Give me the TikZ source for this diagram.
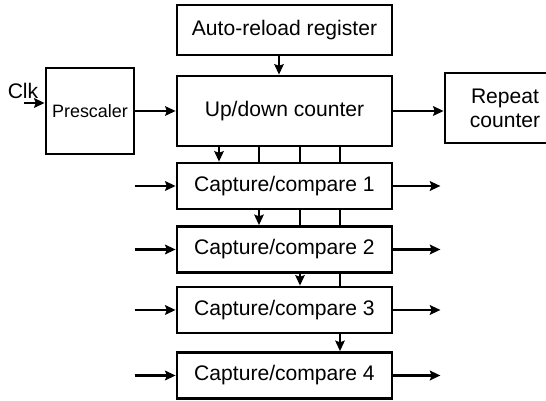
\documentclass[tikz,border=0pt]{standalone}
\usepackage{fontspec}
\setmainfont{Liberation Sans}
\usetikzlibrary{arrows.meta}

\tikzset{
  blk/.style={draw, line width=1.6pt, fill=white, minimum width=43mm,
    font=\fontsize{12}{13.6}\selectfont, align=center, inner sep=0pt},
  arr/.style={-{Stealth[length=6pt,width=5.5pt,inset=1pt]}, line width=0.8pt},
  thickarr/.style={arr, line width=1.2pt},
  wire/.style={line width=0.8pt}
}

\begin{document}
\begin{tikzpicture}[x=0.2mm,y=-0.2mm]
\useasboundingbox (0,0) rectangle (546,401);

% timer core
\node[blk, minimum height=10mm] (reload) at (284.5,30) {Auto-reload register};
\node[blk, minimum height=14mm] (counter) at (284.5,111) {Up/down counter};
\node[blk, minimum width=17.6mm, minimum height=17.2mm,
      font=\fontsize{10.2}{12}\selectfont] (presc) at (90,111) {Prescaler};
\node[blk, minimum width=24mm, minimum height=14mm] (repeat) at (505,108) {Repeat\\counter};

% capture/compare channels
\node[blk, minimum height=9.2mm] (cc1) at (284.5,186) {Capture/compare 1};
\node[blk, minimum height=9.2mm] (cc2) at (284.5,249.5) {Capture/compare 2};
\node[blk, minimum height=9.2mm] (cc3) at (284.5,310) {Capture/compare 3};
\node[blk, minimum height=9.2mm] (cc4) at (284.5,375.5) {Capture/compare 4};

% clock input
\node[font=\fontsize{12}{13.6}\selectfont, inner sep=0pt] (clk) at (23,91) {Clk};
\coordinate (clkin) at (24,103);
\draw[thickarr] (clkin) -- (clkin -| presc.west);

\draw[arr] (presc.east) -- (counter.west);
\draw[arr] ([xshift=-1.1mm]reload.south) -- ([xshift=-1.1mm]counter.south |- counter.north);
\draw[thickarr] (counter.east) -- (counter.east -| repeat.west);

% counter bus down to the channels
\draw[arr] ([xshift=-13.1mm]counter.south) -- ([xshift=-13.1mm]cc1.north);
\draw[wire] ([xshift=-5.1mm]counter.south) -- ([xshift=-5.1mm]cc1.north);
\draw[wire] ([xshift=3.1mm]counter.south) -- ([xshift=3.1mm]cc1.north);
\draw[wire] ([xshift=11.1mm]counter.south) -- ([xshift=11.1mm]cc1.north);

\draw[arr] ([xshift=-5.1mm]cc1.south) -- ([xshift=-5.1mm]cc2.north);
\draw[wire] ([xshift=3.1mm]cc1.south) -- ([xshift=3.1mm]cc2.north);
\draw[wire] ([xshift=11.1mm]cc1.south) -- ([xshift=11.1mm]cc2.north);

\draw[arr] ([xshift=3.1mm]cc2.south) -- ([xshift=3.1mm]cc3.north);
\draw[wire] ([xshift=11.1mm]cc2.south) -- ([xshift=11.1mm]cc3.north);

\draw[arr] ([xshift=11.1mm]cc3.south) -- ([xshift=11.1mm]cc4.north);

% channel inputs and outputs
\draw[thickarr] ([xshift=-8.2mm]cc1.west) -- (cc1.west);
\draw[thickarr] ([xshift=-8.2mm]cc2.west) -- (cc2.west);
\draw[thickarr] ([xshift=-8.2mm]cc3.west) -- (cc3.west);
\draw[thickarr] ([xshift=-8.2mm]cc4.west) -- (cc4.west);

\draw[thickarr] (cc1.east) -- ++(9.4mm,0);
\draw[thickarr] (cc2.east) -- ++(9.4mm,0);
\draw[thickarr] (cc3.east) -- ++(9.4mm,0);
\draw[thickarr] (cc4.east) -- ++(9.4mm,0);
\end{tikzpicture}
\end{document}
